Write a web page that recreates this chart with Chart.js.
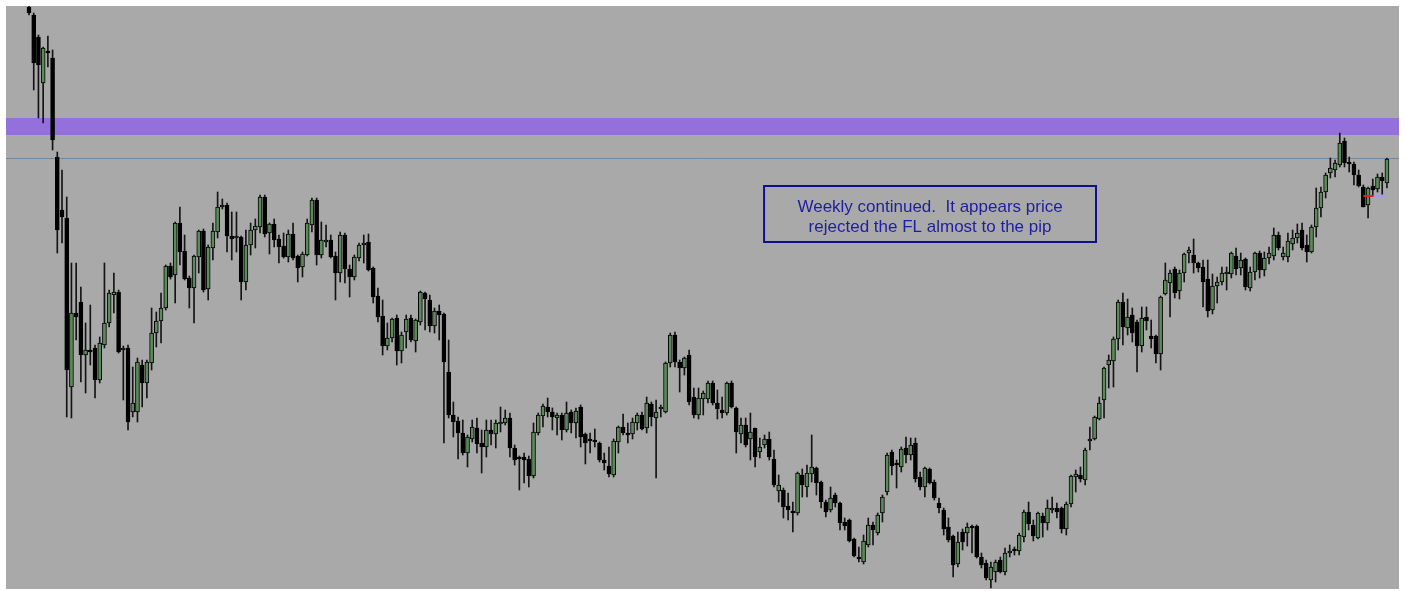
<!DOCTYPE html>
<html>
<head>
<meta charset="utf-8">
<script src="https://cdn.jsdelivr.net/npm/chart.js@4.4.1/dist/chart.umd.min.js"></script>
<style>
    html, body { margin: 0; padding: 0; background: #ffffff; }
    #wrap { position: absolute; left: 6px; top: 6px; width: 1393px; height: 583px; }
    #chart { background: #a9a9a9; }
</style>
</head>
<body>
<div id="wrap"><canvas id="chart" width="1393" height="583"></canvas></div>
<script>
// weekly candles, price in arbitrary units
const opens = [
    593,585,563,517,549,542,443,390,382,213, 287,298,245,250,252,220,255,277,305,308,
    250,252,188,188,235,217,237,267,279,292, 334,325,377,349,322,312,343,369,311,352,
    368,393,395,364,362,363,318,355,370,373, 403,367,376,361,354,343,366,344,333,345,
    375,400,345,358,360,344,327,365,331,323, 342,355,358,332,304,284,254,262,282,249,
    268,282,259,278,307,300,274,289,286,228, 185,179,167,147,161,172,157,153,170,166,
    176,177,182,152,142,143,141,124,167,184, 193,188,182,185,170,188,177,193,166,160,
    159,157,140,134,125,158,173,166,166,177, 185,172,196,182,191,188,237,265,238,232,
    245,203,185,201,201,217,197,190,187,217, 192,166,175,161,172,148,155,161,141,109,
    110,94,88,87,125,113,126,132,118,98, 90,105,97,78,80,61,43,38,55,75,
    67,87,108,148,136,133,152,145,157,123, 113,131,118,97,90,73,64,36,68,67,
    73,74,43,37,20,28,40,28,47,50, 49,63,88,75,62,84,77,90,92,92,
    71,96,123,125,120,159,161,181,200,235, 239,261,298,272,285,278,254,283,264,264,
    246,306,317,331,309,327,347,345,337,333, 321,290,314,318,326,326,344,332,341,312,
    328,347,330,342,344,365,343,343,356,362, 370,355,348,373,392,408,427,430,435,459,
    437,436,425,413,395,414,411,423,417
];
const highs = [
    596,587,565,553,564,550,448,430,403,337, 337,313,277,295,255,263,337,310,327,310,
    254,255,233,242,240,240,292,288,307,335, 337,378,393,365,324,345,370,371,355,377,
    408,401,397,388,388,364,370,377,381,405, 405,377,381,365,367,370,377,345,348,381,
    402,402,378,375,365,348,368,367,335,345, 357,365,366,333,312,300,277,282,285,268,
    285,285,281,309,308,305,292,295,287,260, 198,183,180,165,180,182,170,180,180,180,
    193,190,187,155,144,147,144,177,187,196, 202,192,187,187,198,190,192,195,167,167,
    171,158,147,153,161,174,186,177,182,187, 188,203,198,200,195,238,267,268,240,243,
    250,212,212,209,219,219,210,203,218,219, 193,182,182,187,172,162,165,168,150,125,
    112,107,98,128,131,135,165,133,119,100, 113,107,98,82,81,62,53,65,82,78,
    87,105,147,150,140,153,163,162,162,128, 133,132,120,102,92,82,65,68,71,77,
    75,75,47,40,38,40,43,52,55,53, 67,90,98,80,88,87,100,103,97,93,
    98,125,130,133,152,173,184,203,233,245, 263,300,307,301,292,280,293,293,280,265,
    304,337,330,333,330,347,353,361,338,340, 340,326,323,333,333,348,352,347,342,333,
    348,349,348,353,372,368,353,367,370,376, 377,365,375,412,413,427,442,440,467,462,
    443,438,430,415,413,421,426,427,442
];
const lows = [
    585,510,482,477,533,450,347,357,183,182, 260,218,207,235,202,217,252,273,287,247,
    200,170,183,178,193,202,230,253,257,290, 321,297,335,320,292,277,327,308,300,340,
    362,391,348,340,348,300,310,345,352,367, 363,346,353,337,342,338,340,318,323,344,
    368,335,342,353,342,300,318,317,303,320, 339,337,329,297,278,245,250,258,235,237,
    252,258,248,275,270,268,267,260,157,182, 163,141,145,133,158,147,127,143,155,152,
    168,175,143,135,110,117,113,122,165,173, 183,170,165,160,168,167,162,153,136,147,
    153,138,130,123,123,147,165,157,161,170, 170,167,174,122,183,187,233,233,208,225,
    195,182,181,185,197,195,181,182,185,192, 147,157,153,140,133,142,152,140,113,98,
    82,80,68,85,103,103,118,105,92,83, 88,93,70,70,58,43,38,36,53,55,
    65,78,105,125,112,128,137,140,118,110, 103,116,100,87,65,58,23,33,50,54,
    47,42,32,20,12,18,27,25,43,45, 45,58,70,59,61,63,70,87,82,67,
    65,93,108,118,115,150,160,180,182,212, 213,250,255,265,258,228,248,270,252,237,
    230,305,283,302,301,318,337,327,328,293, 283,286,297,315,310,322,325,325,310,309,
    320,322,324,336,340,350,340,338,350,357, 350,338,347,363,383,402,422,423,433,433,
    428,415,413,393,382,405,408,405,412
];
const closes = [
    587,537,535,552,547,460,370,383,230,287, 283,245,250,248,220,257,277,307,308,248,
    252,178,197,238,217,238,267,279,292,334, 323,377,348,321,312,344,369,310,353,369,
    393,395,364,361,363,318,355,370,374,403, 366,376,360,353,343,366,342,332,346,377,
    400,345,360,360,343,327,365,331,323,343, 355,357,330,303,283,254,262,281,249,265,
    281,260,280,308,301,274,289,285,238,185, 178,167,147,163,173,156,153,170,166,177,
    178,182,152,140,141,140,124,168,185,194, 188,183,185,170,187,177,189,163,157,159,
    158,140,137,126,159,173,167,165,178,185, 171,197,183,188,192,237,265,238,232,242,
    198,185,202,207,217,197,191,187,217,193, 168,175,155,168,143,153,161,143,115,115,
    93,90,87,127,115,127,133,117,98,88, 102,97,77,74,59,44,41,59,75,70,
    85,103,145,134,135,151,145,155,121,113, 132,117,102,92,71,60,35,58,58,73,
    72,43,35,22,33,38,28,47,49,49, 65,88,76,64,87,77,92,91,88,71,
    96,124,126,121,150,160,183,197,232,240, 261,298,273,283,267,254,282,279,261,246,
    303,320,327,307,327,346,350,337,332,318, 289,314,318,327,327,347,331,340,313,328,
    347,330,342,347,365,352,347,359,362,367, 352,348,373,392,408,425,432,437,457,437,
    436,425,414,393,412,410,423,419,441
];

// drawn levels
const zoneTop = 482;      // purple supply zone
const zoneBottom = 465;
const flLevel = 442;      // thin blue line
const markLevel = 404;    // small red / lilac marks on the last bars
const noteLines = ['Weekly continued.  It appears price', 'rejected the FL almost to the pip'];
const noteBox = { x0: 155.9, x1: 226.3, yTop: 414, yBottom: 358 };

const wickData = highs.map((h, i) => ({ x: i, y: [lows[i], h] }));
const bodyData = opens.map((o, i) => ({ x: i, y: [o, closes[i]] }));
const bodyColors = opens.map((o, i) => closes[i] > opens[i] ? '#5b8b5a' : '#000000');

const overlay = {
    id: 'overlay',
    beforeDatasetsDraw(chart) {
        const ctx = chart.ctx;
        const y = chart.scales.y;
        const area = chart.chartArea;
        ctx.save();
        // purple zone
        ctx.fillStyle = '#9370db';
        const t = y.getPixelForValue(zoneTop), b = y.getPixelForValue(zoneBottom);
        ctx.fillRect(area.left, t, area.right - area.left, b - t);
        // FL line
        ctx.strokeStyle = '#6c89a6';
        ctx.lineWidth = 1;
        const ly = Math.round(y.getPixelForValue(flLevel)) + 0.5;
        ctx.beginPath();
        ctx.moveTo(area.left, ly);
        ctx.lineTo(area.right, ly);
        ctx.stroke();
        ctx.restore();
    },
    afterDatasetsDraw(chart) {
        const ctx = chart.ctx;
        const x = chart.scales.x, y = chart.scales.y;
        ctx.save();
        // marks on the last bars
        const my = y.getPixelForValue(markLevel);
        ctx.fillStyle = '#a89ae8';
        ctx.fillRect(x.getPixelForValue(285.2), my - 1.5, x.getPixelForValue(287.8) - x.getPixelForValue(285.2), 3);
        ctx.fillStyle = '#e02020';
        ctx.fillRect(x.getPixelForValue(283), my - 1, x.getPixelForValue(285.2) - x.getPixelForValue(283), 2);
        // text box
        const bx0 = x.getPixelForValue(noteBox.x0), bx1 = x.getPixelForValue(noteBox.x1);
        const by0 = y.getPixelForValue(noteBox.yTop), by1 = y.getPixelForValue(noteBox.yBottom);
        ctx.strokeStyle = '#10108a';
        ctx.lineWidth = 2;
        ctx.strokeRect(bx0, by0, bx1 - bx0, by1 - by0);
        ctx.fillStyle = '#1e1ea0';
        ctx.font = '17px "Liberation Sans", Arial, sans-serif';
        ctx.textAlign = 'center';
        ctx.textBaseline = 'middle';
        const cx = (bx0 + bx1) / 2;
        ctx.fillText(noteLines[0], cx, by0 + 21);
        ctx.fillText(noteLines[1], cx, by0 + 41);
        ctx.restore();
    }
};

new Chart(document.getElementById('chart').getContext('2d'), {
    type: 'bar',
    data: {
        datasets: [{
            label: 'wicks',
            data: wickData,
            backgroundColor: '#141414',
            barThickness: 1,
            grouped: false,
            order: 2
        }, {
            label: 'bodies',
            data: bodyData,
            backgroundColor: bodyColors,
            borderColor: '#000000',
            borderWidth: 1,
            borderSkipped: false,
            barThickness: 4,
            minBarLength: 2,
            grouped: false,
            order: 1
        }]
    },
    options: {
        responsive: false,
        animation: false,
        layout: { padding: 0 },
        scales: {
            x: { type: 'linear', min: -4.88, max: 290.56, offset: false, display: false },
            y: { type: 'linear', min: 11, max: 594, display: false }
        },
        plugins: {
            legend: { display: false },
            tooltip: { enabled: false }
        }
    },
    plugins: [overlay]
});
</script>
</body>
</html>
